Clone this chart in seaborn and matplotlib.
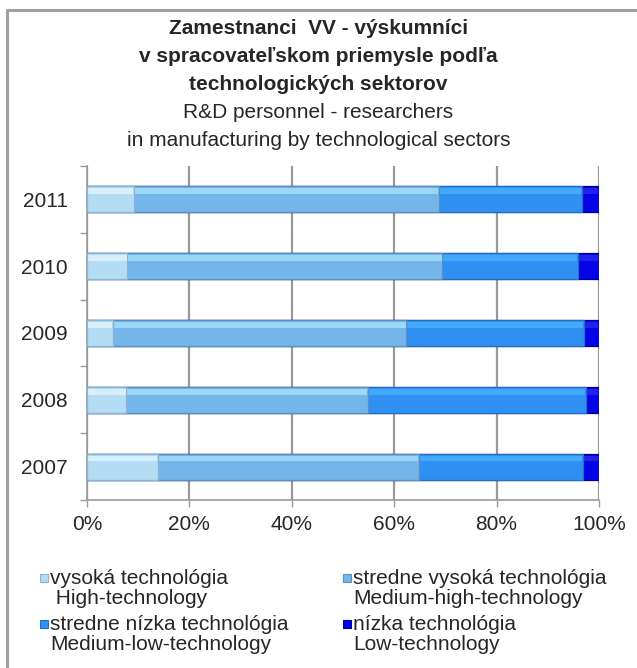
import matplotlib
matplotlib.use("Agg")
import matplotlib.pyplot as plt
import seaborn as sns
import numpy as np
import pandas as pd
from matplotlib.patches import Rectangle
from matplotlib.lines import Line2D

years = ["2011", "2010", "2009", "2008", "2007"]
high = [9.2, 7.9, 5.1, 7.7, 13.9]
med_high = [59.5, 61.5, 57.3, 47.2, 50.9]
med_low = [27.9, 26.5, 34.6, 42.5, 32.0]
low = [3.4, 4.1, 3.0, 2.6, 3.2]
label_sk = ["vysoká technológia", "stredne vysoká technológia",
            "stredne nízka technológia", "nízka technológia"]
label_en = [" High-technology", "Medium-high-technology",
            "Medium-low-technology", "Low-technology"]
x_ticks = [0, 20, 40, 60, 80, 100]
x_tick_labels = ["0%", "20%", "40%", "60%", "80%", "100%"]
title_bold = ["Zamestnanci  VV - výskumníci",
              "v spracovateľskom priemysle podľa",
              "technologických sektorov"]
title_reg = ["R&D personnel - researchers",
             "in manufacturing by technological sectors"]

colors = ["#b4dcf4", "#74b6ea", "#2f90f2", "#0404e4"]
highlights = ["#e6f8ff", "#aee6ff", "#4cb4ff", "#3030f0"]
edges = ["#8cb4cc", "#5a8fbe", "#2470c0", "#0000a0"]

sns.set_theme(style="white")
plt.rcParams["font.family"] = ["Liberation Sans", "DejaVu Sans"]

fig = plt.figure(figsize=(6.37, 6.68), dpi=100)
ax = fig.add_axes([87 / 637, 1 - 500 / 668, 512 / 637, 334 / 668])

series = [high, med_high, med_low, low]
cum = np.cumsum(np.array(series), axis=0)
df = pd.DataFrame({"year": years})
for i in range(4):
    df[f"c{i}"] = cum[i]

for i in range(3, -1, -1):
    n_before = len(ax.patches)
    sns.barplot(data=df, x=f"c{i}", y="year", orient="h", color=colors[i],
                width=0.39, ax=ax, edgecolor=edges[i], linewidth=0.9,
                saturation=1, zorder=3)
    # light bevel highlight on the upper part of each bar just drawn
    for p in list(ax.patches[n_before:]):
        x0, y0 = p.get_x(), p.get_y()
        w, h = p.get_width(), p.get_height()
        ax.add_patch(Rectangle((x0 + 0.15, y0 + 0.03), w - 0.3, h * 0.22,
                               facecolor=highlights[i], edgecolor="none",
                               alpha=0.7, zorder=3))

ax.set_xlim(0, 100)
ax.set_ylim(4.5, -0.5)
ax.set_xticks(x_ticks)
ax.set_xticklabels(x_tick_labels)
ax.set_xlabel("")
ax.set_ylabel("")
ax.set_yticks(range(len(years)))
ax.set_yticklabels(years)
ax.tick_params(axis="y", length=0, pad=14, labelsize=15)
ax.tick_params(axis="x", length=5, width=1, color="#999999", direction="out",
               pad=6, labelsize=15, bottom=True)
ax.set_yticks(np.arange(-0.5, 5.0, 1.0), minor=True)
ax.tick_params(axis="y", which="minor", length=5, width=1, color="#999999",
               direction="out", left=True)
ax.grid(axis="x", color="#999999", linewidth=1.6, zorder=0)
ax.grid(axis="y", visible=False)
ax.spines["top"].set_visible(False)
ax.spines["right"].set_visible(False)
ax.spines["left"].set_color("#999999")
ax.spines["bottom"].set_color("#999999")
ax.spines["left"].set_linewidth(1.2)
ax.spines["bottom"].set_linewidth(1.2)

# outer frame (top and left edges visible)
fig.add_artist(Line2D([7 / 637, 1.0], [1 - 10 / 668, 1 - 10 / 668],
                      transform=fig.transFigure, color="#a0a0a0", lw=2.2))
fig.add_artist(Line2D([7 / 637, 7 / 637], [0, 1 - 10 / 668],
                      transform=fig.transFigure, color="#a0a0a0", lw=2.2))

title_y = [28, 56, 84, 112, 140]
for t, yy in zip(title_bold, title_y[:3]):
    fig.text(0.5, 1 - yy / 668, t, ha="center", va="center", fontsize=15,
             fontweight="bold")
for t, yy in zip(title_reg, title_y[3:]):
    fig.text(0.5, 1 - yy / 668, t, ha="center", va="center", fontsize=15)

# legend
leg_x = [40, 343]
leg_y = [578, 624]
for i in range(4):
    col, row = i % 2, i // 2
    mx, my = leg_x[col], leg_y[row]
    fig.patches.append(Rectangle((mx / 637, 1 - (my + 4) / 668), 8 / 637, 8 / 668,
                                 transform=fig.transFigure, facecolor=colors[i],
                                 edgecolor=edges[i], lw=0.8))
    fig.text((mx + 10) / 637, 1 - my / 668, label_sk[i], ha="left",
             va="center", fontsize=15)
    fig.text((mx + 10) / 637, 1 - (my + 21) / 668, label_en[i], ha="left",
             va="center", fontsize=15)

fig.savefig("out.png", dpi=100)
